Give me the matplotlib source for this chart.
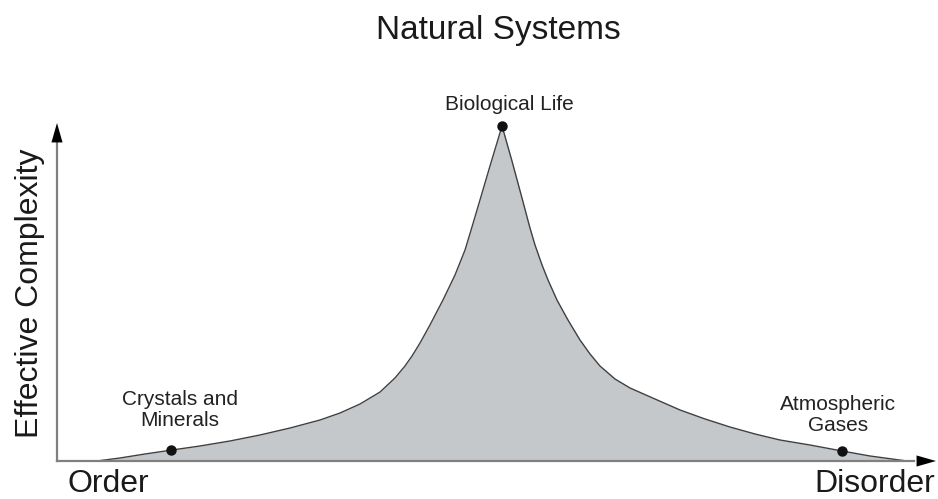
import matplotlib.pyplot as plt

plt.rcParams["font.family"] = ["Liberation Sans", "DejaVu Sans"]

# curve: x = order -> disorder (0-100), y = effective complexity (0-100)
disorder = [4.55, 7.17, 10.01, 13.08, 16.27, 19.68, 23.09, 26.51, 29.92, 32.20,
            34.47, 36.75, 38.45, 39.59, 40.39, 41.30, 42.43, 43.91, 45.28, 46.42,
            47.21, 48.12, 49.26, 50.63,
            51.76, 52.90, 53.81, 54.38, 55.18, 55.86, 56.88, 58.13, 59.50, 60.64,
            61.77, 63.48, 65.19, 68.03, 70.88, 73.72, 76.56, 79.41, 82.25, 85.67,
            89.31, 92.49, 96.70]
complexity = [0, 0.89, 2.07, 3.25, 4.44, 5.92, 7.69, 9.76, 12.13, 14.20,
              16.86, 20.41, 24.56, 28.11, 31.07, 34.91, 40.24, 47.63, 55.03, 62.43,
              69.23, 77.22, 87.28, 99.11,
              88.76, 77.81, 68.93, 63.91, 57.99, 53.55, 47.63, 41.72, 35.80, 31.66,
              28.11, 24.26, 21.60, 18.34, 15.09, 12.43, 10.06, 7.99, 6.21, 4.73,
              2.96, 1.48, 0]

# labelled systems
systems = ["Crystals and\nMinerals", "Biological Life", "Atmospheric\nGases"]
system_x = [13.0, 50.6, 89.3]
system_y = [3.3, 99.1, 3.0]

fig = plt.figure(figsize=(9.38, 4.99), dpi=100)
ax = fig.add_axes([57 / 938, 38 / 499, 879 / 938, 338 / 499])
ax.set_xlim(0, 100)
ax.set_ylim(0, 100)
ax.axis("off")

ax.fill_between(disorder, complexity, color="#c4c8cb", lw=0, zorder=1)
ax.plot(disorder, complexity, color="#404040", lw=1.0, zorder=2,
        solid_joinstyle="round")

# axes with arrow heads
ax.plot([0, 97.5], [0, 0], color="#808080", lw=1.6, zorder=3, clip_on=False)
ax.plot([0, 0], [0, 94], color="#808080", lw=1.6, zorder=3, clip_on=False)
head = dict(arrowstyle="-|>,head_length=1.4,head_width=0.4", color="black",
            lw=0, shrinkA=0, shrinkB=0, mutation_scale=10)
ax.annotate("", xy=(100, 0), xytext=(95, 0), arrowprops=head, annotation_clip=False)
ax.annotate("", xy=(0, 100), xytext=(0, 90), arrowprops=head, annotation_clip=False)

ax.plot(system_x, system_y, "o", color="#111111", ms=6.5, zorder=4, clip_on=False)
ax.text(14.0, 15.1, systems[0], ha="center", va="center", fontsize=15,
        linespacing=1.1, color="#222222")
ax.text(51.5, 103.8, systems[1], ha="center", va="baseline", fontsize=15,
        color="#222222", clip_on=False)
ax.text(88.85, 13.6, systems[2], ha="center", va="center", fontsize=15,
        linespacing=1.1, color="#222222")

ax.text(1.25, -9.2, "Order", ha="left", va="baseline", fontsize=23, color="#1a1a1a")
ax.text(99.9, -9.2, "Disorder", ha="right", va="baseline", fontsize=23, color="#1a1a1a")
ax.text(-3.07, 49.7, "Effective Complexity", rotation=90, ha="center", va="center",
        fontsize=23, color="#1a1a1a")

fig.text(498 / 938, 1 - 30 / 499, "Natural Systems", ha="center", va="center",
         fontsize=24, color="#1a1a1a")

fig.savefig("out.png", dpi=100, facecolor="white")
